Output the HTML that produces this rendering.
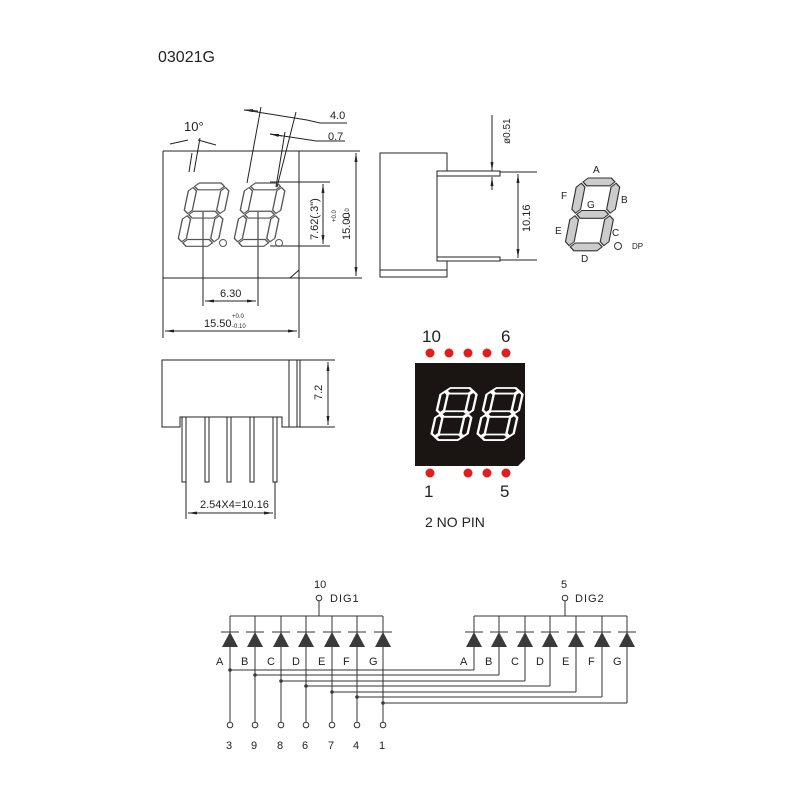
<!DOCTYPE html>
<html><head><meta charset="utf-8"><style>
body{margin:0;background:#fff}
svg{display:block}
text{font-family:"Liberation Sans",sans-serif;fill:#222}
.n{font-family:"Liberation Sans Narrow","Liberation Sans",sans-serif}
</style></head><body>
<svg width="800" height="800" viewBox="0 0 800 800" xmlns="http://www.w3.org/2000/svg">
<defs>
<g id="dg" transform="skewX(-10)">
<polygon points="4,3 7,0 23,0 26,3 23,6 7,6"/>
<polygon points="4,28 7,25 23,25 26,28 23,31 7,31"/>
<polygon points="4,53 7,50 23,50 26,53 23,56 7,56"/>
<polygon points="3,4 6,7 6,24 3,27 0,24 0,7"/>
<polygon points="27,4 30,7 30,24 27,27 24,24 24,7"/>
<polygon points="3,29 6,32 6,49 3,52 0,49 0,32"/>
<polygon points="27,29 30,32 30,49 27,52 24,49 24,32"/>
</g>
<marker id="ar" markerWidth="10" markerHeight="6" refX="9" refY="3" orient="auto-start-reverse" markerUnits="userSpaceOnUse"><path d="M0,1.5 L9,3 L0,4.5z" fill="#222"/></marker>
</defs>
<text x="158" y="62" font-size="16">03021G</text>

<g fill="none" stroke="#222" stroke-width="1">
<path d="M163,151 H360 M163,151 V338 M299,151 V338 M163,278 H362 M290,278 L299,270"/>
<line x1="356" y1="153" x2="356" y2="276" marker-start="url(#ar)" marker-end="url(#ar)"/>
<path d="M270,182 H330 M270,246 H330"/>
<line x1="323" y1="184" x2="323" y2="244" marker-start="url(#ar)" marker-end="url(#ar)"/>
<path d="M203,212 V306 M258,212 V306"/>
<line x1="205" y1="301" x2="256" y2="301" marker-start="url(#ar)" marker-end="url(#ar)"/>
<line x1="165" y1="331" x2="297" y2="331" marker-start="url(#ar)" marker-end="url(#ar)"/>
<path d="M194,172 L200,138 M192,153 L189,172 M261,107 L247,183 M296,112 L277,187 M285,132 L276,187 M245,110 L307,120 L320,123 H347 M270,134 L310,140 L316,141 H345"/>
<line x1="258" y1="111" x2="244" y2="110" marker-end="url(#ar)"/>
<line x1="282" y1="136" x2="270" y2="134" marker-end="url(#ar)"/>
<path d="M170,144 L188,140 M198,140 L216,145"/>
</g>
<g fill="none" stroke="#555" stroke-width="1">
<use href="#dg" transform="translate(190,183) scale(1.35,1.13)"/>
<use href="#dg" transform="translate(246,183) scale(1.35,1.13)"/>
<circle cx="223" cy="243" r="3.5"/><circle cx="279" cy="243" r="3.5"/>
</g>
<text class="n" x="184" y="131" font-size="13">10°</text>
<text class="n" x="330" y="119" font-size="11">4.0</text>
<text class="n" x="328" y="140" font-size="11">0.7</text>
<text class="n" x="220" y="297" font-size="11">6.30</text>
<text class="n" x="204" y="327" font-size="11">15.50</text>
<text x="232" y="318" font-size="6">+0.0</text>
<text x="232" y="328" font-size="6">-0.10</text>
<text class="n" font-size="11" transform="translate(318,240) rotate(-90)">7.62(.3")</text>
<text font-size="6" transform="translate(336,222) rotate(-90)">+0.0</text>
<text font-size="6" transform="translate(349,222) rotate(-90)">-0.10</text>
<text class="n" font-size="11" transform="translate(350,240) rotate(-90)">15.00</text>

<g fill="none" stroke="#222" stroke-width="1">
<path d="M380,153 H447 V171 H437 V261 H447 V277 H380 Z M380,270 H447"/>
<path d="M437,171 H500 V176 H437 M437,257 H500 V261 H437 M500,172 H537 M500,260 H537"/>
<line x1="518" y1="174" x2="518" y2="258" marker-start="url(#ar)" marker-end="url(#ar)"/>
<line x1="492" y1="115" x2="492" y2="171" marker-end="url(#ar)"/>
<line x1="492" y1="190" x2="492" y2="177" marker-end="url(#ar)"/>
</g>
<text class="n" font-size="10" transform="translate(510,144) rotate(-90)">ø0.51</text>
<text class="n" font-size="11" transform="translate(530,232) rotate(-90)">10.16</text>

<g fill="#ccc" stroke="#333" stroke-width="0.8">
<use href="#dg" transform="translate(578,178) scale(1.45,1.3)"/>
</g>
<circle cx="618" cy="246" r="3.5" fill="none" stroke="#333"/>
<g font-size="10">
<text x="593" y="173">A</text><text x="621" y="203">B</text><text x="612" y="236">C</text>
<text x="581" y="262">D</text><text x="555" y="234">E</text><text x="561" y="199">F</text>
<text x="587" y="208">G</text><text x="632" y="249" font-size="8">DP</text>
</g>

<g fill="none" stroke="#222" stroke-width="1">
<path d="M162,360 H300 V427 H282 V417 H180 V427 H162 Z M289,360 V427 M297,360 V427 M300,360 H335 M300,427 H335"/>
<line x1="328" y1="362" x2="328" y2="425" marker-start="url(#ar)" marker-end="url(#ar)"/>
<path d="M182,417 V482 H186 V417 M205,417 V482 H209 V417 M227,417 V482 H231 V417 M250,417 V482 H254 V417 M273,417 V482 H277 V417"/>
<path d="M186,482 V519 M275,482 V519"/>
<line x1="188" y1="513" x2="273" y2="513" marker-start="url(#ar)" marker-end="url(#ar)"/>
</g>
<text class="n" font-size="11" transform="translate(322,400) rotate(-90)">7.2</text>
<text class="n" x="200" y="508" font-size="11">2.54X4=10.16</text>

<path d="M415,363 H525 V459 L518,466 H415 Z" fill="#1a1512"/>
<g fill="none" stroke="#fff" stroke-width="2">
<use href="#dg" transform="translate(442,388) scale(1.2,0.93)"/>
<use href="#dg" transform="translate(488,388) scale(1.2,0.93)"/>
</g>
<g fill="#e21d1d">
<circle cx="430" cy="353" r="4.5"/><circle cx="449" cy="353" r="4.5"/><circle cx="468" cy="353" r="4.5"/><circle cx="487" cy="353" r="4.5"/><circle cx="506" cy="353" r="4.5"/>
<circle cx="430" cy="473" r="4.5"/><circle cx="468" cy="473" r="4.5"/><circle cx="487" cy="473" r="4.5"/><circle cx="506" cy="473" r="4.5"/>
</g>
<g font-size="17">
<text x="422" y="342">10</text><text x="501" y="342">6</text>
<text x="424" y="497">1</text><text x="500" y="497">5</text>
<text x="425" y="527" font-size="14">2 NO PIN</text>
</g>

<g fill="none" stroke="#333" stroke-width="1">
<path d="M230,616 H383 M319,616 V601 M474,616 H627 M565,616 V601"/>
<path d="M230,616 V725 M255,616 V725 M281,616 V725 M306,616 V725 M332,616 V725 M357,616 V725 M383,616 V725"/>
<path d="M474,616 V670 M499,616 V675 M525,616 V681 M550,616 V686 M576,616 V692 M602,616 V697 M627,616 V703"/>
<path d="M230,670 H474 M255,675 H499 M281,681 H525 M306,686 H550 M332,692 H576 M357,697 H602 M383,703 H627"/>
<path d="M221,632 H239 M246,632 H264 M272,632 H290 M297,632 H315 M323,632 H341 M348,632 H366 M374,632 H392"/>
<path d="M465,632 H483 M490,632 H508 M516,632 H534 M541,632 H559 M567,632 H585 M593,632 H611 M618,632 H636"/>
</g>
<g fill="#3a3a3a">
<path d="M230,632 L222,647 H238Z M255,632 L247,647 H263Z M281,632 L273,647 H289Z M306,632 L298,647 H314Z M332,632 L324,647 H340Z M357,632 L349,647 H365Z M383,632 L375,647 H391Z"/>
<path d="M474,632 L466,647 H482Z M499,632 L491,647 H507Z M525,632 L517,647 H533Z M550,632 L542,647 H558Z M576,632 L568,647 H584Z M602,632 L594,647 H610Z M627,632 L619,647 H635Z"/>
<circle cx="230" cy="670" r="1.8"/><circle cx="255" cy="675" r="1.8"/><circle cx="281" cy="681" r="1.8"/><circle cx="306" cy="686" r="1.8"/><circle cx="332" cy="692" r="1.8"/><circle cx="357" cy="697" r="1.8"/><circle cx="383" cy="703" r="1.8"/>
</g>
<g fill="#fff" stroke="#333" stroke-width="1">
<circle cx="319" cy="598" r="2.8"/><circle cx="565" cy="598" r="2.8"/>
<circle cx="230" cy="725" r="2.8"/><circle cx="255" cy="725" r="2.8"/><circle cx="281" cy="725" r="2.8"/><circle cx="306" cy="725" r="2.8"/><circle cx="332" cy="725" r="2.8"/><circle cx="357" cy="725" r="2.8"/><circle cx="383" cy="725" r="2.8"/>
</g>
<g class="n" font-size="11">
<text x="314" y="588">10</text><text x="561" y="588">5</text>
<text x="330" y="602" letter-spacing="1">DIG1</text><text x="575" y="602" letter-spacing="1">DIG2</text>
<text x="216" y="665">A</text><text x="241" y="665">B</text><text x="267" y="665">C</text><text x="292" y="665">D</text><text x="318" y="665">E</text><text x="343" y="665">F</text><text x="369" y="665">G</text>
<text x="460" y="665">A</text><text x="485" y="665">B</text><text x="511" y="665">C</text><text x="536" y="665">D</text><text x="562" y="665">E</text><text x="588" y="665">F</text><text x="613" y="665">G</text>
<text x="226" y="749">3</text><text x="251" y="749">9</text><text x="277" y="749">8</text><text x="302" y="749">6</text><text x="328" y="749">7</text><text x="353" y="749">4</text><text x="379" y="749">1</text>
</g>
</svg>
</body></html>
